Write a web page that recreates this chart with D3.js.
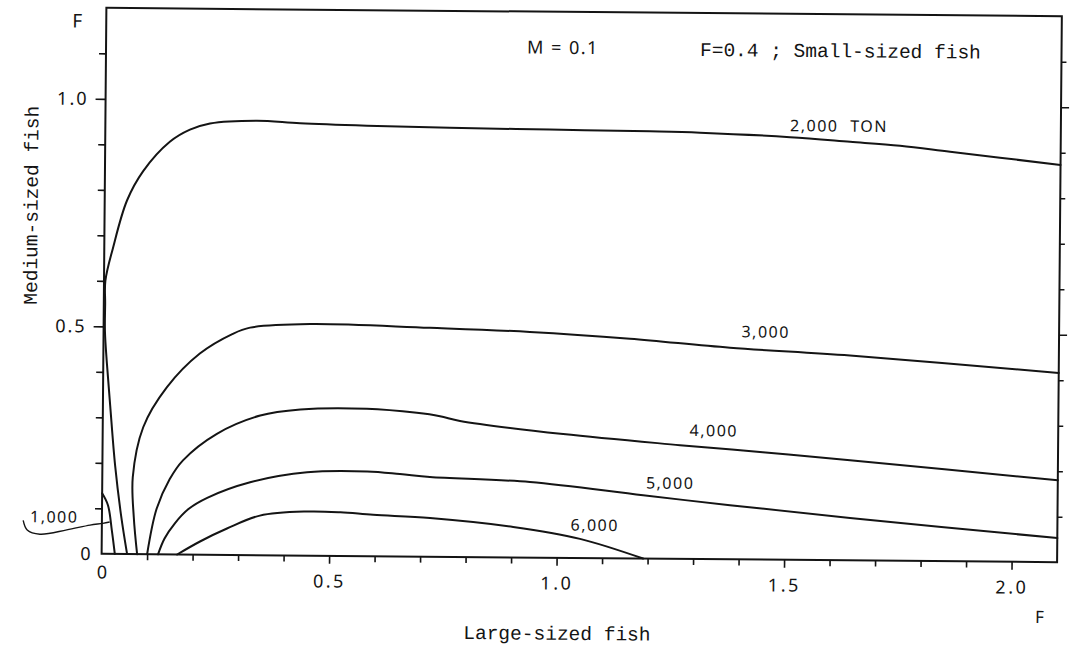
<!DOCTYPE html>
<html><head><meta charset="utf-8">
<script src="https://cdn.jsdelivr.net/npm/d3@7"></script>
<style>body{margin:0;background:#fff}svg{display:block}</style>
</head><body>
<svg id="chart" width="1071" height="648"></svg>
<script>
// ---------- data (F of large-sized fish, F of medium-sized fish) ----------
const xMajorTicks = [0.5, 1.0, 1.5, 2.0];
const xTickLabels = ["0.5", "1.0", "1.5", "2.0"];
const yMajorTicks = [0.5, 1.0];
const yTickLabels = ["0.5", "1.0"];
const contourNames = ["1,000", "2,000 TON", "3,000", "4,000", "5,000", "6,000"];

const c1000 = [[0, 0.133], [0.013, 0.107], [0.022, 0.052], [0.029, 0]];
const c2000 = [[2.1, 0.873], [1.857, 0.900], [1.747, 0.912], [1.637, 0.920], [1.505, 0.929],
  [1.307, 0.937], [1.197, 0.939], [0.977, 0.941], [0.757, 0.943], [0.575, 0.946],
  [0.428, 0.950], [0.333, 0.955], [0.230, 0.948], [0.186, 0.934], [0.142, 0.907],
  [0.084, 0.842], [0.049, 0.777], [0.019, 0.672], [0.003, 0.600], [0.003, 0.550],
  [0.003, 0.490], [0.008, 0.418], [0.016, 0.326], [0.028, 0.194], [0.042, 0.085], [0.056, 0]];
const c3000 = [[2.1, 0.416], [1.641, 0.450], [1.377, 0.465], [1.157, 0.483], [0.937, 0.496],
  [0.717, 0.503], [0.454, 0.509], [0.322, 0.500], [0.284, 0.486], [0.212, 0.442],
  [0.140, 0.367], [0.089, 0.279], [0.067, 0.169], [0.070, 0.081], [0.078, 0]];
const c4000 = [[2.1, 0.180], [1.643, 0.220], [1.451, 0.236], [1.269, 0.250], [1.012, 0.272],
  [0.785, 0.299], [0.741, 0.309], [0.690, 0.316], [0.580, 0.324], [0.434, 0.321],
  [0.346, 0.307], [0.251, 0.266], [0.177, 0.207], [0.148, 0.165], [0.120, 0.100], [0.100, 0]];
const c5000 = [[2.1, 0.053], [1.644, 0.093], [1.380, 0.119], [1.189, 0.139], [0.940, 0.166],
  [0.720, 0.175], [0.654, 0.181], [0.582, 0.186], [0.450, 0.183], [0.325, 0.160],
  [0.231, 0.125], [0.190, 0.100], [0.160, 0.068], [0.138, 0.035], [0.124, 0]];
const c6000 = [[1.190, 0], [1.051, 0.042], [0.904, 0.067], [0.721, 0.085], [0.596, 0.091],
  [0.524, 0.096], [0.451, 0.097], [0.347, 0.087], [0.275, 0.058], [0.216, 0.029], [0.166, 0]];
const pointer1000 = [[-0.173, 0.072], [-0.164, 0.051], [-0.136, 0.042], [-0.077, 0.052],
  [-0.026, 0.063], [0.002, 0.067], [0.017, 0.070]];

const contours = [c1000, c2000, c3000, c4000, c5000, c6000];

// ---------- drawing ----------
const svg = d3.select("#chart");
const root = svg.append("g").attr("transform", "rotate(0.5,580,283)");

const x = d3.scaleLinear().domain([0, 2.1]).range([104, 1059.5]);
const y = d3.scaleLinear().domain([0, 1.2]).range([558, 12]);

const ink = "#141414";
const monoFont = "'Liberation Mono', 'DejaVu Sans Mono', monospace";
const sansFont = "'Noto Sans', 'DejaVu Sans', sans-serif";

// frame
root.append("rect")
  .attr("x", x(0)).attr("y", y(1.2))
  .attr("width", x(2.1) - x(0)).attr("height", y(0) - y(1.2))
  .attr("fill", "none").attr("stroke", ink).attr("stroke-width", 2);

const minorX = d3.range(1, 21).map(i => i / 10).filter(v => !xMajorTicks.some(m => Math.abs(m - v) < 1e-9));
const minorY = d3.range(1, 12).map(i => i / 10).filter(v => !yMajorTicks.some(m => Math.abs(m - v) < 1e-9));

function styleAxis(g) {
  g.select(".domain").remove();
  g.selectAll(".tick line").attr("stroke", ink).attr("stroke-width", 1.6);
}

// bottom axis
root.append("g").attr("transform", `translate(0,${y(0)})`)
  .call(d3.axisBottom(x).tickValues(minorX).tickSize(6).tickFormat(""))
  .call(styleAxis);
const xAx = root.append("g").attr("transform", `translate(0,${y(0)})`)
  .call(d3.axisBottom(x).tickValues(xMajorTicks).tickSize(8).tickPadding(11)
    .tickFormat((d, i) => xTickLabels[i]))
  .call(styleAxis);
xAx.selectAll("text").attr("font-family", sansFont).attr("font-size", 18)
  .attr("letter-spacing", 2.5).attr("fill", ink);
root.append("g").attr("transform", `translate(0,${y(0)})`)
  .call(d3.axisBottom(x).tickValues([0]).tickSize(0).tickPadding(12).tickFormat(() => "0"))
  .call(styleAxis)
  .selectAll("text").attr("font-family", sansFont).attr("font-size", 18).attr("fill", ink);

// left axis
root.append("g").attr("transform", `translate(${x(0)},0)`)
  .call(d3.axisLeft(y).tickValues(minorY).tickSize(7).tickFormat(""))
  .call(styleAxis);
const yAx = root.append("g").attr("transform", `translate(${x(0)},0)`)
  .call(d3.axisLeft(y).tickValues(yMajorTicks).tickSize(10).tickPadding(7)
    .tickFormat((d, i) => yTickLabels[i]))
  .call(styleAxis);
yAx.selectAll("text").attr("font-family", sansFont).attr("font-size", 18)
  .attr("letter-spacing", 2).attr("fill", ink);
root.append("g").attr("transform", `translate(${x(0)},0)`)
  .call(d3.axisLeft(y).tickValues([0]).tickSize(0).tickPadding(11).tickFormat(() => "0"))
  .call(styleAxis)
  .selectAll("text").attr("font-family", sansFont).attr("font-size", 18).attr("fill", ink);

// right axis
root.append("g").attr("transform", `translate(${x(2.1)},0)`)
  .call(d3.axisRight(y).tickValues(minorY).tickSize(5).tickFormat(""))
  .call(styleAxis);
root.append("g").attr("transform", `translate(${x(2.1)},0)`)
  .call(d3.axisRight(y).tickValues(yMajorTicks).tickSize(8).tickFormat(""))
  .call(styleAxis);

// contour lines
const line = d3.line().x(d => x(d[0])).y(d => y(d[1])).curve(d3.curveCatmullRom.alpha(0.5));
root.append("g").selectAll("path").data(contours).join("path")
  .attr("d", line).attr("fill", "none").attr("stroke", ink)
  .attr("stroke-width", 2).attr("stroke-linejoin", "round").attr("stroke-linecap", "round");

// pointer for the 1,000 contour
root.append("path").datum(pointer1000).attr("d", line)
  .attr("fill", "none").attr("stroke", ink).attr("stroke-width", 1.4);

// contour labels (start anchor, in data units)
const labelAnchors = [[-0.158, 0.068], [1.505, 0.942], [1.402, 0.488], [1.290, 0.270], [1.195, 0.154], [1.030, 0.060]];
root.append("g").selectAll("text").data(contourNames).join("text")
  .attr("x", (d, i) => x(labelAnchors[i][0]))
  .attr("y", (d, i) => y(labelAnchors[i][1]))
  .attr("font-family", sansFont).attr("font-size", 16)
  .attr("letter-spacing", 1.5).attr("word-spacing", 6).attr("fill", ink)
  .text(d => d);

// axis titles and F symbols
root.append("text").attr("x", 70).attr("y", 32).attr("font-family", sansFont)
  .attr("font-size", 19).attr("fill", ink).text("F");
root.append("text").attr("x", 1038).attr("y", 619).attr("font-family", sansFont)
  .attr("font-size", 17).attr("fill", ink).text("F");
root.append("text").attr("transform", "translate(37,210) rotate(-90)")
  .attr("text-anchor", "middle").attr("font-family", monoFont).attr("font-size", 19.5)
  .attr("fill", ink).text("Medium-sized fish");
root.append("text").attr("x", 560).attr("y", 640).attr("text-anchor", "middle")
  .attr("font-family", monoFont).attr("font-size", 19.5).attr("fill", ink).text("Large-sized fish");

// header
root.append("text").attr("x", 525).attr("y", 54).attr("font-family", sansFont)
  .attr("font-size", 18).attr("letter-spacing", 1.5).attr("fill", ink).text("M = 0.1");
root.append("text").attr("x", 698).attr("y", 55).attr("font-family", monoFont)
  .attr("font-size", 19.5).attr("fill", ink).text("F=0.4 ; Small-sized fish");
</script>
</body></html>
